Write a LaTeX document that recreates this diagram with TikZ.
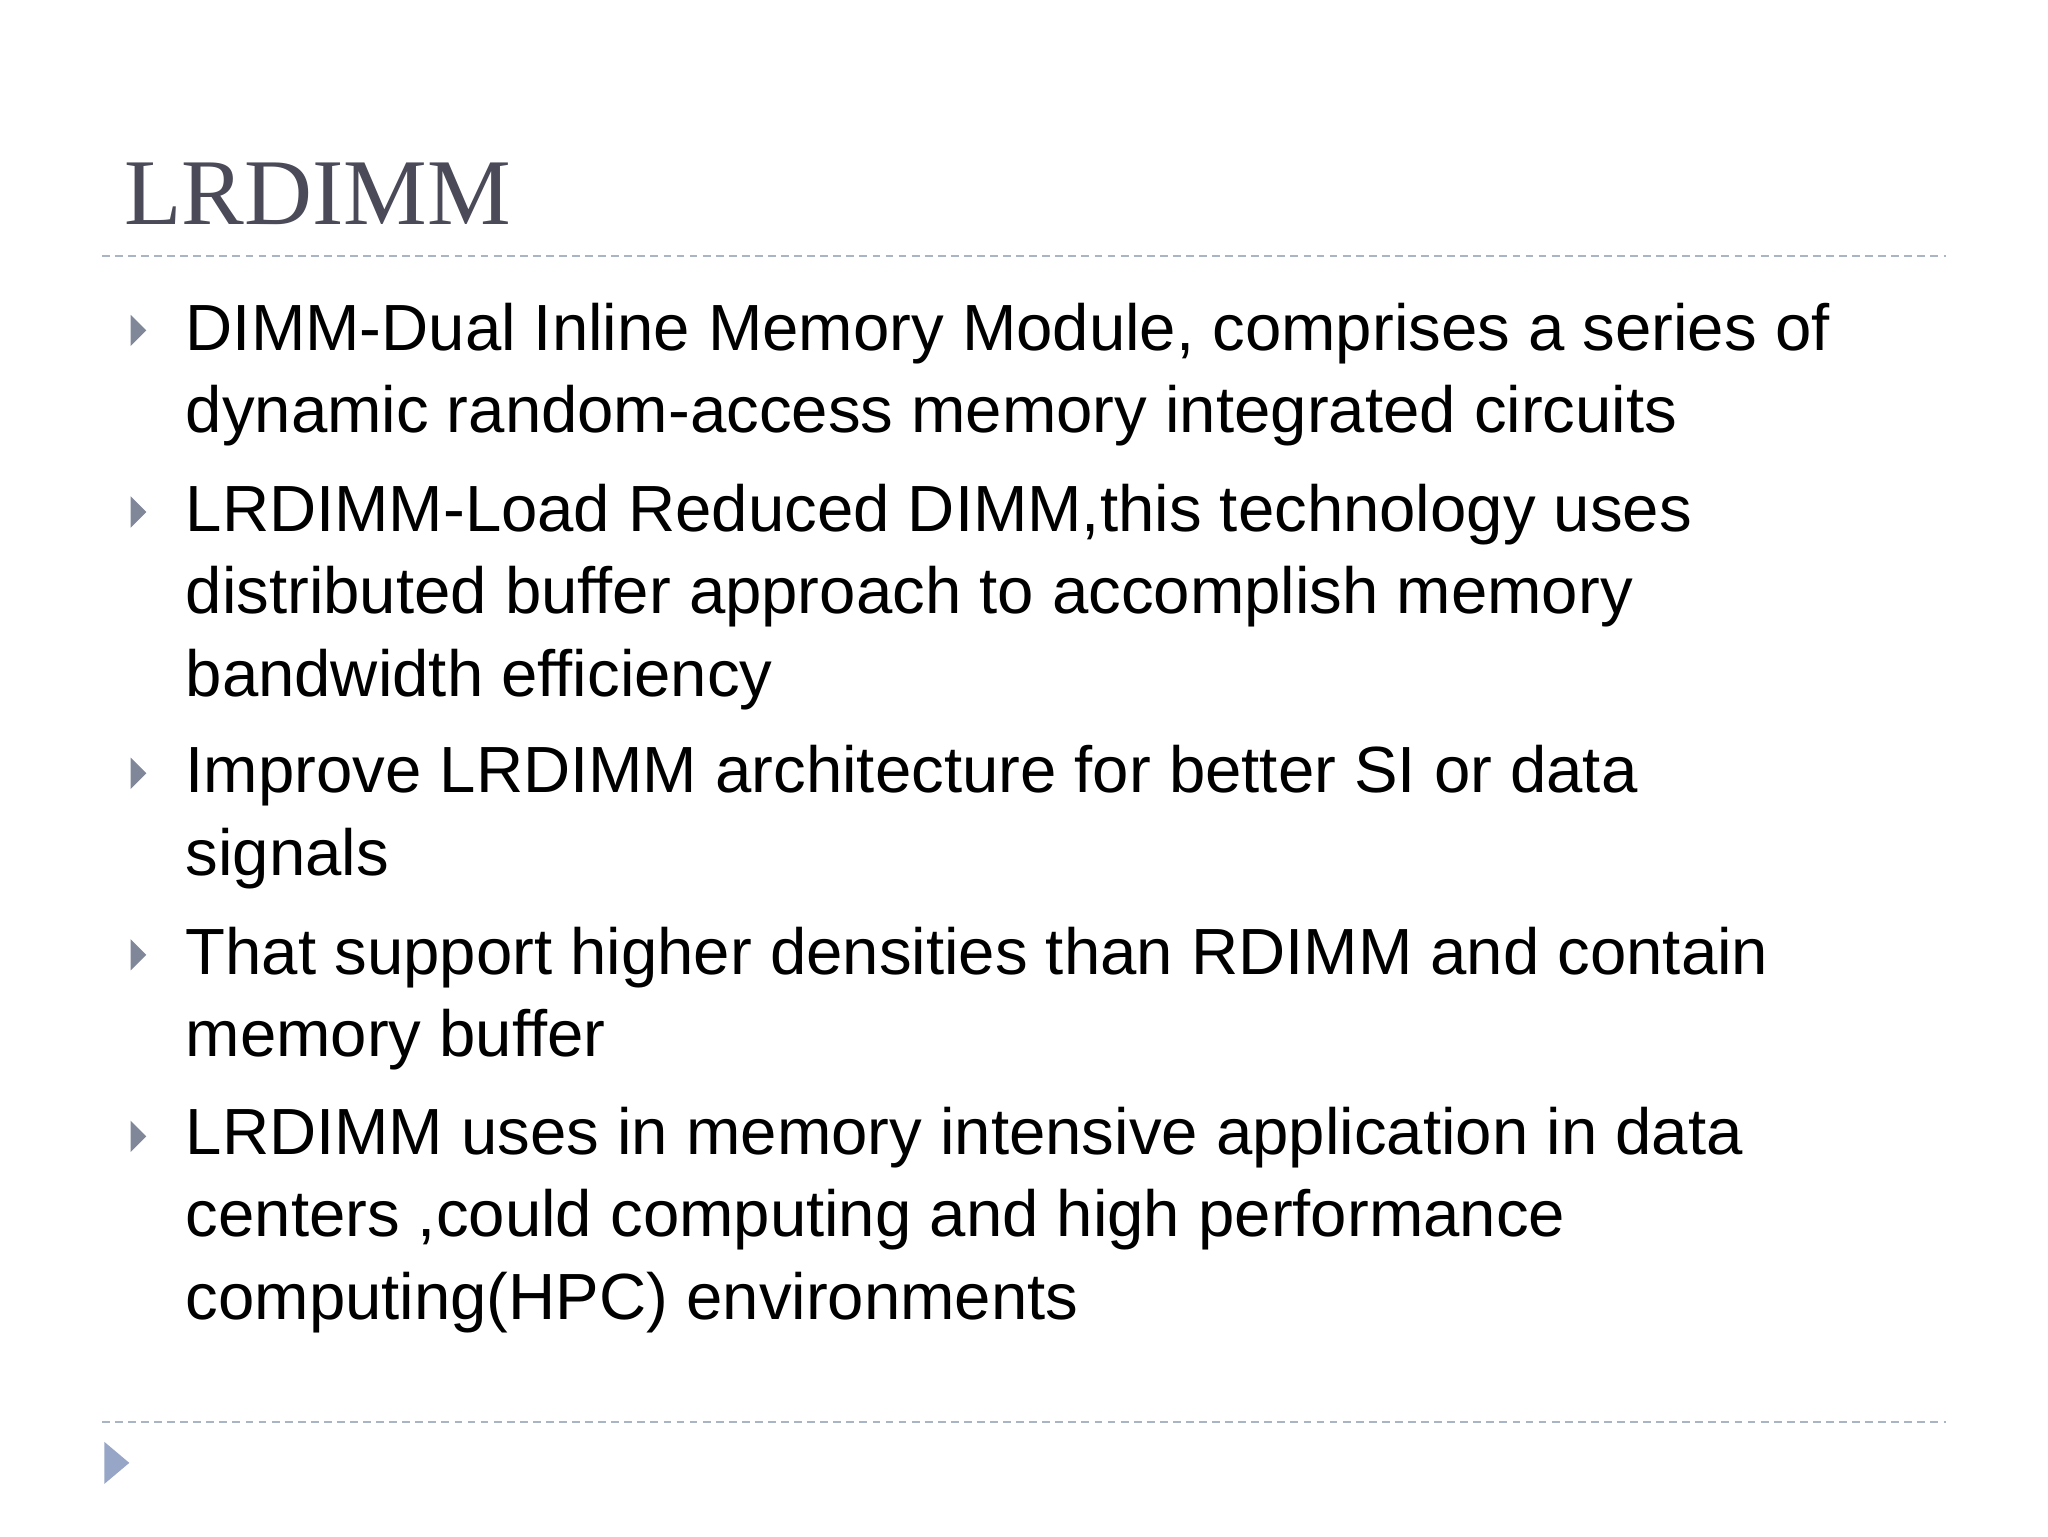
\documentclass[tikz,border=0pt]{standalone}
\usepackage{fontspec}
\setmainfont{Liberation Sans}
\newfontfamily\titlefont{Liberation Serif}
\definecolor{titlec}{HTML}{4A4A58}
\definecolor{bulc}{HTML}{7F8799}
\definecolor{linec}{HTML}{A9B4C4}
\definecolor{tric}{HTML}{97A6C6}
\tikzset{body/.style={anchor=base west,inner sep=0,font=\fontsize{50}{60}\selectfont},
 dline/.style={draw=linec,line width=1.5pt,dash pattern=on 6pt off 4pt}}
\begin{document}
\begin{tikzpicture}[x=1pt,y=-1pt]
\useasboundingbox (0,0) rectangle (1568,1176);
\node[anchor=base west,inner sep=0,text=titlec,font=\titlefont\fontsize{72}{80}\selectfont] (title) at (95,172) {LRDIMM};
\draw[dline] (78,196) -- (1490,196);
\draw[dline] (78,1089) -- (1490,1089);
\fill[tric] (80,1104) -- (99,1120) -- (80,1136) -- cycle;
\foreach \y in {253,392,592,731,870}{
  \fill[bulc] (100,\y-12) -- (112,\y) -- (100,\y+12) -- cycle;}
\node[body] (l1) at (142,268) {DIMM-Dual Inline Memory Module, comprises a series of};
\node[body] (l2) at (142,331) {dynamic random-access memory integrated circuits};
\node[body] (l3) at (142,407) {LRDIMM-Load Reduced DIMM,this technology uses};
\node[body] (l4) at (142,470) {distributed buffer approach to accomplish memory};
\node[body] (l5) at (142,533) {bandwidth efficiency};
\node[body] (l6) at (142,607) {Improve LRDIMM architecture for better SI or data};
\node[body] (l7) at (142,670) {signals};
\node[body] (l8) at (142,746) {That support higher densities than RDIMM and contain};
\node[body] (l9) at (142,809) {memory buffer};
\node[body] (l10) at (142,884) {LRDIMM uses in memory intensive application in data};
\node[body] (l11) at (142,947) {centers ,could computing and high performance};
\node[body] (l12) at (142,1010) {computing(HPC) environments};
\end{tikzpicture}
\end{document}
